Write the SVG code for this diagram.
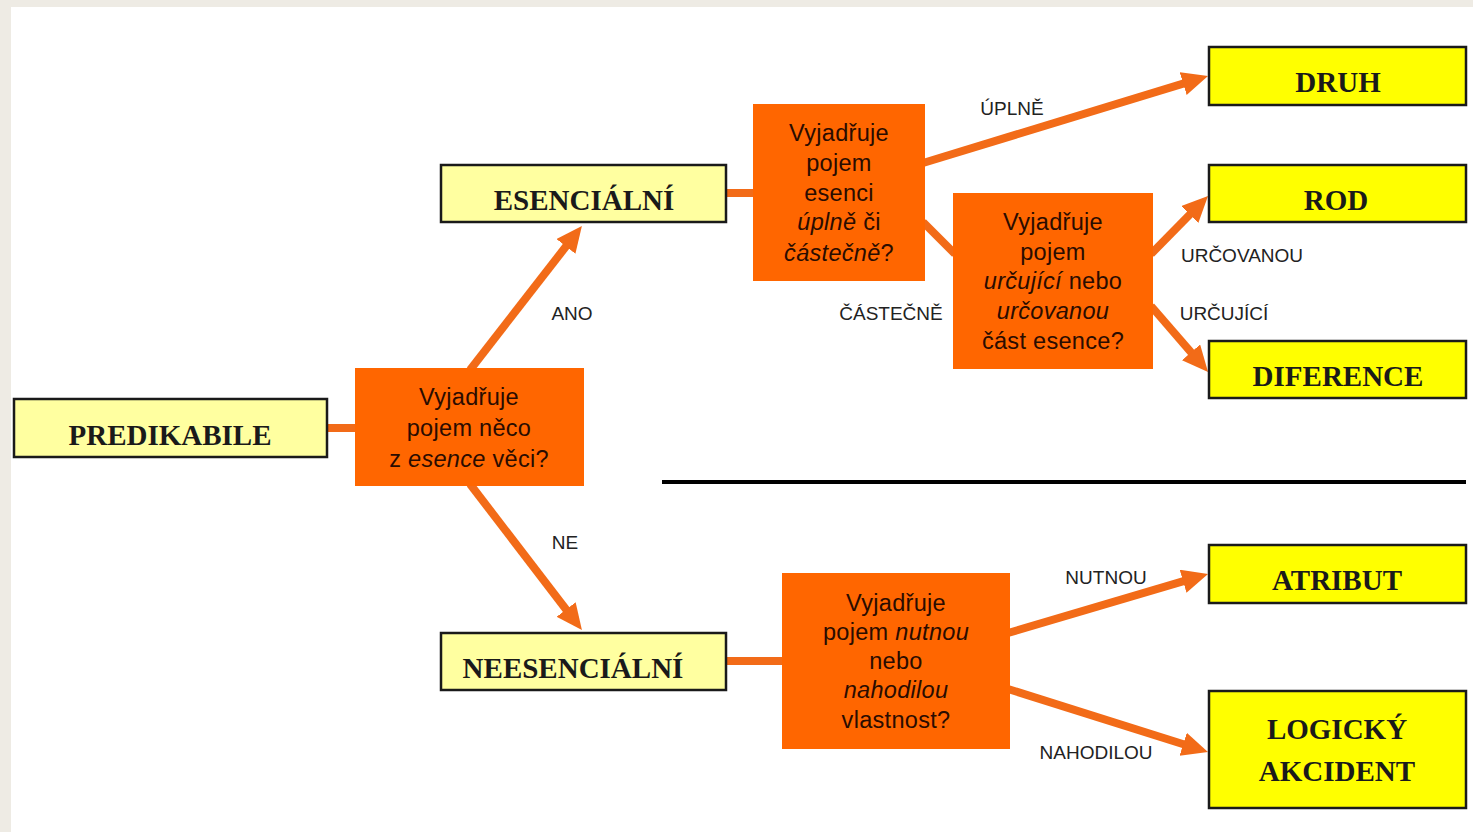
<svg xmlns="http://www.w3.org/2000/svg" width="1473" height="832" viewBox="0 0 1473 832">
<defs>
<style>
.bg{fill:#EEEBE4}
.pale{fill:#FFFFA0;stroke:#1a1a1a;stroke-width:2.5}
.yel{fill:#FFFF00;stroke:#1a1a1a;stroke-width:2.5}
.dec{fill:#FF6600}
.nl{font-family:"Liberation Serif","Times New Roman",serif;font-weight:bold;font-size:29px;fill:#1a1a1a;text-anchor:middle}
.dt{font-family:"Liberation Sans",Arial,sans-serif;font-size:23.5px;letter-spacing:0.3px;fill:#2a0c00;text-anchor:middle}
.it{font-style:italic}
.lb{font-family:"Liberation Sans",Arial,sans-serif;font-size:19px;fill:#222;text-anchor:middle}
.cn{stroke:#F26B18;stroke-width:8;fill:none}
</style>
<marker id="ah" markerUnits="userSpaceOnUse" markerWidth="30" markerHeight="26" refX="12" refY="12" orient="auto">
<path d="M0,0 L26,12 L0,24 z" fill="#F26B18"/>
</marker>
</defs>
<rect class="bg" x="0" y="0" width="1473" height="832"/>
<rect x="11" y="7" width="1462" height="825" fill="#FFFFFF"/>
<line x1="662" y1="482" x2="1466" y2="482" stroke="#000" stroke-width="4"/>
<g id="connectors">
<line class="cn" x1="327" y1="428" x2="357" y2="428"/>
<line class="cn" x1="470" y1="370" x2="573.3" y2="237" marker-end="url(#ah)"/>
<line class="cn" x1="470" y1="484" x2="573.4" y2="619" marker-end="url(#ah)"/>
<line class="cn" x1="726" y1="193" x2="755" y2="193"/>
<line class="cn" x1="923" y1="163" x2="1194.6" y2="80.1" marker-end="url(#ah)"/>
<line class="cn" x1="923" y1="222" x2="955" y2="254"/>
<line class="cn" x1="1151" y1="254" x2="1198.2" y2="206" marker-end="url(#ah)"/>
<line class="cn" x1="1151" y1="306" x2="1198.9" y2="361.4" marker-end="url(#ah)"/>
<line class="cn" x1="726" y1="661" x2="784" y2="661"/>
<line class="cn" x1="1008" y1="633" x2="1194.6" y2="577.9" marker-end="url(#ah)"/>
<line class="cn" x1="1008" y1="689" x2="1194.6" y2="747.8" marker-end="url(#ah)"/>
<text class="lb" x="572" y="320">ANO</text>
<text class="lb" x="565" y="549">NE</text>
<text class="lb" x="1012" y="115">ÚPLNĚ</text>
<text class="lb" x="891" y="320">ČÁSTEČNĚ</text>
<text class="lb" x="1242" y="262">URČOVANOU</text>
<text class="lb" x="1224" y="320">URČUJÍCÍ</text>
<text class="lb" x="1106" y="584">NUTNOU</text>
<text class="lb" x="1096" y="759">NAHODILOU</text>
</g>
<g id="predikabile">
<rect class="pale" x="14" y="399" width="313" height="58"/>
<text class="nl" x="170" y="445">PREDIKABILE</text>
</g>
<g id="q-esence">
<rect class="dec" x="355" y="368" width="229" height="118"/>
<text class="dt" x="469" y="405">Vyjadřuje</text>
<text class="dt" x="469" y="436">pojem něco</text>
<text class="dt" x="469" y="467">z <tspan class="it">esence</tspan> věci?</text>
</g>
<g id="esencialni">
<rect class="pale" x="441" y="165" width="285" height="57"/>
<text class="nl" x="584" y="210">ESENCIÁLNÍ</text>
</g>
<g id="neesencialni">
<rect class="pale" x="441" y="633" width="285" height="57"/>
<text class="nl" x="573" y="678">NEESENCIÁLNÍ</text>
</g>
<g id="q-uplne">
<rect class="dec" x="753" y="104" width="172" height="177"/>
<text class="dt" x="839" y="141">Vyjadřuje</text>
<text class="dt" x="839" y="171">pojem</text>
<text class="dt" x="839" y="201">esenci</text>
<text class="dt" x="839" y="230"><tspan class="it">úplně</tspan> či</text>
<text class="dt" x="839" y="261"><tspan class="it">částečně</tspan>?</text>
</g>
<g id="q-cast">
<rect class="dec" x="953" y="193" width="200" height="176"/>
<text class="dt" x="1053" y="230">Vyjadřuje</text>
<text class="dt" x="1053" y="260">pojem</text>
<text class="dt" x="1053" y="289"><tspan class="it">určující</tspan> nebo</text>
<text class="dt" x="1053" y="319"><tspan class="it">určovanou</tspan></text>
<text class="dt" x="1053" y="349">část esence?</text>
</g>
<g id="q-vlastnost">
<rect class="dec" x="782" y="573" width="228" height="176"/>
<text class="dt" x="896" y="611">Vyjadřuje</text>
<text class="dt" x="896" y="640">pojem <tspan class="it">nutnou</tspan></text>
<text class="dt" x="896" y="669">nebo</text>
<text class="dt" x="896" y="698"><tspan class="it">nahodilou</tspan></text>
<text class="dt" x="896" y="728">vlastnost?</text>
</g>
<g id="druh">
<rect class="yel" x="1209" y="47" width="257" height="58"/>
<text class="nl" x="1338" y="92">DRUH</text>
</g>
<g id="rod">
<rect class="yel" x="1209" y="165" width="257" height="57"/>
<text class="nl" x="1336" y="210">ROD</text>
</g>
<g id="diference">
<rect class="yel" x="1209" y="341" width="257" height="57"/>
<text class="nl" x="1338" y="386">DIFERENCE</text>
</g>
<g id="atribut">
<rect class="yel" x="1209" y="545" width="257" height="58"/>
<text class="nl" x="1337" y="590">ATRIBUT</text>
</g>
<g id="logicky-akcident">
<rect class="yel" x="1209" y="691" width="257" height="117"/>
<text class="nl" x="1337" y="739">LOGICKÝ</text>
<text class="nl" x="1337" y="781">AKCIDENT</text>
</g>
</svg>
